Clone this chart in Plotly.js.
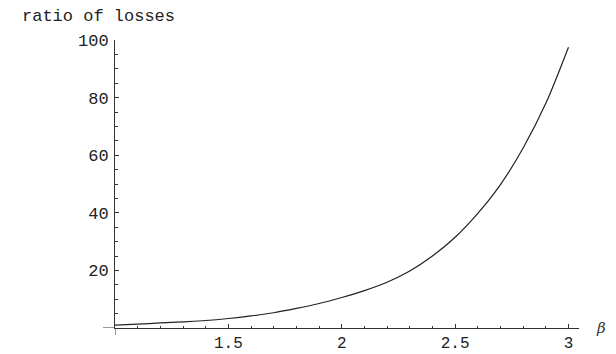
<!DOCTYPE html>
<html>
<head>
<meta charset="utf-8">
<script src="https://cdn.plot.ly/plotly-3.0.1.min.js"></script>
<style>html,body{margin:0;padding:0;background:#fff;}#chart{width:616px;height:354px;}</style>
</head>
<body>
<div id="chart"></div>
<script>
const betaValues = [1.0, 1.1, 1.2, 1.3, 1.4, 1.5, 1.6, 1.7, 1.8, 1.9, 2.0, 2.1, 2.2, 2.3, 2.4, 2.5, 2.6, 2.7, 2.8, 2.9, 3.0];
const lossRatio  = [1.0, 1.35, 1.75, 2.15, 2.6, 3.3, 4.2, 5.3, 6.8, 8.5, 10.6, 13.0, 15.9, 19.8, 25.0, 31.5, 39.8, 49.8, 62.5, 78.0, 97.5];
const xTickVals = [1.5, 2, 2.5, 3];
const xTickText = ["1.5", "2", "2.5", "3"];
const yTickVals = [20, 40, 60, 80, 100];
const yTickText = ["20", "40", "60", "80", "100"];
const yTitle = "ratio of losses";
const xTitle = "β";

const axisColor = '#333';
const fontMono = {family: 'Liberation Mono, Courier New, monospace', size: 17, color: '#222'};

const trace = {
  x: betaValues, y: lossRatio, type: 'scatter', mode: 'lines',
  line: {color: '#222', width: 1.2, shape: 'spline', smoothing: 0.8}, hoverinfo: 'skip'
};

const layout = {
  width: 616, height: 354,
  margin: {l: 115, r: 37, t: 40, b: 26, pad: 0},
  paper_bgcolor: '#fff', plot_bgcolor: '#fff',
  showlegend: false,
  xaxis: {
    range: [1, 1 + 464 / 226.75], automargin: false,
    showgrid: false, zeroline: false,
    showline: true, linecolor: axisColor, linewidth: 1,
    tickmode: 'array', tickvals: xTickVals, ticktext: xTickText,
    ticks: 'inside', ticklen: 4, tickwidth: 1, tickcolor: axisColor,
    tickfont: {family: fontMono.family, size: 16, color: '#222'}, ticklabelstandoff: 0,
    minor: {tickmode: 'linear', tick0: 1, dtick: 0.1, ticks: 'inside', ticklen: 2.5, tickwidth: 1, tickcolor: axisColor, showgrid: false}
  },
  yaxis: {
    range: [0, 100], automargin: false,
    showgrid: false, zeroline: false,
    showline: true, linecolor: axisColor, linewidth: 1,
    tickmode: 'array', tickvals: yTickVals, ticktext: yTickText,
    ticks: 'inside', ticklen: 4, tickwidth: 1, tickcolor: axisColor,
    tickfont: fontMono, ticklabelstandoff: 2,
    minor: {tickmode: 'linear', tick0: 0, dtick: 5, ticks: 'inside', ticklen: 2.5, tickwidth: 1, tickcolor: axisColor, showgrid: false}
  },
  shapes: [
    {type: 'line', xref: 'paper', yref: 'y', x0: -12 / 464, x1: 0, y0: 0, y1: 0, line: {color: axisColor, width: 1}},
    {type: 'line', xref: 'x', yref: 'paper', x0: 1, x1: 1, y0: -7 / 288, y1: 0, line: {color: axisColor, width: 1}}
  ],
  annotations: [
    {text: yTitle, xref: 'paper', yref: 'paper', x: -95 / 464, y: 1 + 12 / 288, xanchor: 'left', yanchor: 'bottom', showarrow: false, font: fontMono},
    {text: xTitle, xref: 'paper', yref: 'y', x: 1 + 15 / 464, y: 0, xanchor: 'left', yanchor: 'middle', showarrow: false,
     font: {family: 'DejaVu Serif, serif', size: 15, color: '#333', style: 'italic'}}
  ]
};

Plotly.newPlot('chart', [trace], layout, {displayModeBar: false, staticPlot: true});
</script>
</body>
</html>
